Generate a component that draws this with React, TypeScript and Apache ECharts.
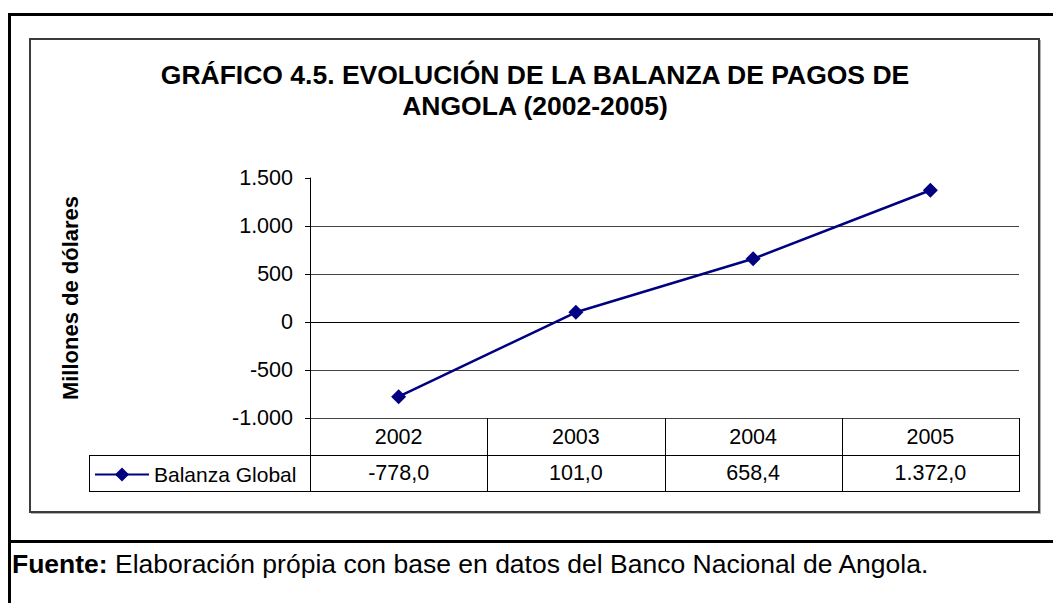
import React, { useEffect, useRef } from 'react';
import * as echarts from 'echarts';

const years = ['2002', '2003', '2004', '2005'];
const balanzaGlobal = [-778.0, 101.0, 658.4, 1372.0];
const seriesName = 'Balanza Global';
const yMin = -1000;
const yMax = 1500;
const yInterval = 500;
const titleLines = ['GRÁFICO 4.5. EVOLUCIÓN DE LA BALANZA DE PAGOS DE', 'ANGOLA (2002-2005)'];
const yAxisTitle = 'Millones de dólares';
const sourceLabel = 'Fuente:';
const sourceText = 'Elaboración própia con base en datos del Banco Nacional de Angola.';

const FONT = 'Arial, "Liberation Sans", Helvetica, sans-serif';

function fmt(v: number, dec: number): string {
  const s = Math.abs(v).toFixed(dec);
  const [i, d] = s.split('.');
  const ii = i.replace(/\B(?=(\d{3})+(?!\d))/g, '.');
  return (v < 0 ? '-' : '') + ii + (d ? ',' + d : '');
}

// layout
const W = 1053;
const H = 603;
const GRID_L = 310;
const GRID_R = 1019;
const GRID_T = 178;
const GRID_B = 418;
const ROW1_B = 455;
const ROW2_B = 491;
const TABLE_L = 89;

export default function App() {
  const ref = useRef<HTMLDivElement>(null);
  useEffect(() => {
    if (!ref.current) return;
    const chart = echarts.init(ref.current, undefined, { renderer: 'svg' });
    const colW = (GRID_R - GRID_L) / years.length;
    const graphic: any[] = [];
    const line = (x1: number, y1: number, x2: number, y2: number, w = 1, c = '#000', z = 10) =>
      graphic.push({ type: 'line', silent: true, z, shape: { x1, y1, x2, y2 }, style: { stroke: c, lineWidth: w } });
    // outer frame
    line(8, 14.5, W, 14.5, 3);
    line(9.5, 13, 9.5, H, 3);
    line(8, 541.5, W, 541.5, 3);
    // inner chart box
    graphic.push({
      type: 'rect', silent: true, z: 1,
      shape: { x: 30, y: 39, width: 1009, height: 473 },
      style: { fill: 'transparent', stroke: '#3c3c3c', lineWidth: 2 },
    });
    line(1040.5, 40, 1040.5, 514, 1, '#b0b0b0', 1);
    line(31, 513.5, 1041, 513.5, 1, '#b0b0b0', 1);
    // data table lines
    line(TABLE_L, ROW1_B + 0.5, GRID_R, ROW1_B + 0.5);
    line(TABLE_L, ROW2_B + 0.5, GRID_R, ROW2_B + 0.5);
    line(TABLE_L + 0.5, ROW1_B, TABLE_L + 0.5, ROW2_B + 1);
    for (let i = 0; i <= years.length; i++) {
      const x = Math.round(GRID_L + i * colW) + 0.5;
      line(x, GRID_B, x, ROW2_B + 1);
    }
    // y axis title
    graphic.push({
      type: 'text', silent: true, z: 10,
      x: 70, y: (GRID_T + GRID_B) / 2, rotation: Math.PI / 2,
      style: {
        text: yAxisTitle, fontFamily: FONT, fontSize: 22, fontWeight: 'bold',
        fill: '#000', align: 'center', verticalAlign: 'middle',
      },
    });
    // source
    graphic.push({
      type: 'text', silent: true, z: 10,
      x: 12, y: 564,
      style: {
        text: '{b|' + sourceLabel + '} ' + sourceText,
        rich: { b: { fontWeight: 'bold', fontSize: 26.5, fontFamily: FONT, fill: '#000' } },
        fontFamily: FONT, fontSize: 26.5, fill: '#000', align: 'left', verticalAlign: 'middle',
      },
    });

    chart.setOption({
      animation: false,
      backgroundColor: '#fff',
      title: {
        text: titleLines.join('\n'),
        left: 530,
        top: 54,
        textAlign: 'center',
        textStyle: { fontFamily: FONT, fontSize: 26.5, fontWeight: 'bold', color: '#000', lineHeight: 31 },
      },
      legend: {
        data: [{ name: seriesName }],
        left: 94,
        top: 464,
        padding: 0,
        itemWidth: 54,
        itemHeight: 17.5,
        selectedMode: false,
        textStyle: { fontFamily: FONT, fontSize: 21, color: '#000' },
      },
      grid: { left: GRID_L, right: W - GRID_R, top: GRID_T, bottom: H - GRID_B, containLabel: false },
      xAxis: [
        {
          type: 'category',
          data: years,
          boundaryGap: true,
          position: 'bottom',
          axisLine: { show: true, lineStyle: { color: '#000', width: 1 } },
          axisTick: { show: false },
          splitLine: { show: false },
          axisLabel: { margin: 8, fontFamily: FONT, fontSize: 21.5, color: '#000' },
        },
        {
          type: 'category',
          data: balanzaGlobal.map((v) => fmt(v, 1)),
          boundaryGap: true,
          position: 'bottom',
          offset: ROW1_B - GRID_B,
          axisLine: { show: false },
          axisTick: { show: false },
          splitLine: { show: false },
          axisLabel: { margin: 7, fontFamily: FONT, fontSize: 21.5, color: '#000' },
        },
      ],
      yAxis: {
        type: 'value',
        min: yMin,
        max: yMax,
        interval: yInterval,
        axisLine: { show: true, lineStyle: { color: '#000', width: 1 } },
        axisTick: { show: true, length: 5, lineStyle: { color: '#000' } },
        axisLabel: { margin: 17, fontFamily: FONT, fontSize: 21.5, color: '#000', formatter: (v: number) => fmt(v, 0) },
        splitLine: { show: true, showMaxLine: false, lineStyle: { color: '#444', width: 1 } },
      },
      series: [
        {
          name: seriesName,
          type: 'line',
          xAxisIndex: 0,
          data: balanzaGlobal,
          symbol: 'diamond',
          symbolSize: 15,
          lineStyle: { color: '#000080', width: 2.5 },
          itemStyle: { color: '#000080' },
        },
      ],
      graphic,
    });
    return () => chart.dispose();
  }, []);
  return (
    <div
      ref={ref}
      style={{ position: 'absolute', left: 0, top: 0, width: W, height: H, background: '#fff' }}
    />
  );
}
